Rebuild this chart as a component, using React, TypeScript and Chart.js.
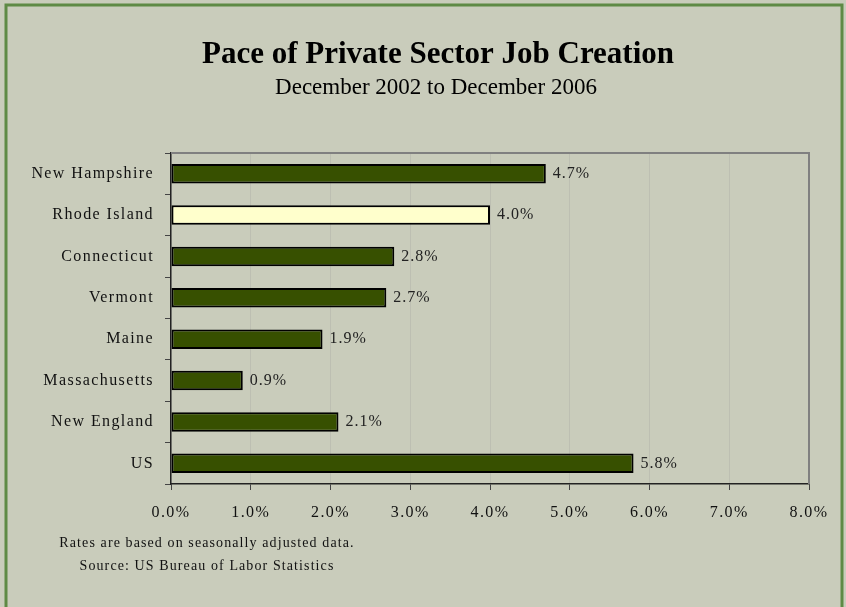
import React, { useEffect, useRef } from "react";
import { Chart, registerables } from "chart.js";

Chart.register(...registerables);

const categories = ["New Hampshire", "Rhode Island", "Connecticut", "Vermont", "Maine", "Massachusetts", "New England", "US"];
const values = [4.7, 4.0, 2.8, 2.7, 1.9, 0.9, 2.1, 5.8];
const barColors = ["#375000", "#FFFFCC", "#375000", "#375000", "#375000", "#375000", "#375000", "#375000"];
const xTicks = [0, 1, 2, 3, 4, 5, 6, 7, 8];
const titleText = "Pace of Private Sector Job Creation";
const subtitleText = "December 2002 to December 2006";
const footerLines = ["Rates are based on seasonally adjusted data.", "Source: US Bureau of Labor Statistics"];

const SERIF = "'Liberation Serif', 'Times New Roman', serif";

const framePlugin = {
  id: "frame",
  beforeLayout(chart: any) {
    (chart.ctx as any).letterSpacing = "1.5px";
  },
  beforeDraw(chart: any) {
    const ctx = chart.ctx;
    ctx.save();
    (ctx as any).letterSpacing = "0px";
    ctx.fillStyle = "#C9CCBB";
    ctx.fillRect(0, 0, chart.width, chart.height);
    ctx.strokeStyle = "#5E8A45";
    ctx.lineWidth = 3;
    ctx.strokeRect(6, 5, chart.width - 10, chart.height + 10);
    // title
    ctx.fillStyle = "#000";
    ctx.textAlign = "center";
    ctx.textBaseline = "middle";
    ctx.font = `bold 31px ${SERIF}`;
    ctx.fillText(titleText, 438, 55);
    ctx.font = `23px ${SERIF}`;
    ctx.fillText(subtitleText, 436, 88);
    // footer
    ctx.font = `14px ${SERIF}`;
    (ctx as any).letterSpacing = "1.1px";
    ctx.fillStyle = "#111";
    ctx.fillText(footerLines[0], 207, 543);
    ctx.fillText(footerLines[1], 207, 566);
    ctx.restore();
    (ctx as any).letterSpacing = "1.4px";
  },
  afterDraw(chart: any) {
    const ctx = chart.ctx;
    const a = chart.chartArea;
    ctx.save();
    ctx.strokeStyle = "#808080";
    ctx.lineWidth = 2;
    ctx.beginPath();
    ctx.moveTo(a.left, a.top);
    ctx.lineTo(a.right, a.top);
    ctx.lineTo(a.right, a.bottom);
    ctx.stroke();
    ctx.restore();
  },
};

const labelPlugin = {
  id: "barLabels",
  afterDatasetsDraw(chart: any) {
    const ctx = chart.ctx;
    const meta = chart.getDatasetMeta(0);
    ctx.save();
    ctx.font = `16px ${SERIF}`;
    (ctx as any).letterSpacing = "1px";
    ctx.fillStyle = "#222";
    ctx.textAlign = "left";
    ctx.textBaseline = "middle";
    meta.data.forEach((bar: any, i: number) => {
      ctx.fillText(values[i].toFixed(1) + "%", bar.x + 7, bar.y);
    });
    ctx.restore();
  },
};

export default function App() {
  const ref = useRef<HTMLCanvasElement>(null);
  useEffect(() => {
    document.body.style.margin = "0";
    const chart = new Chart(ref.current!, {
      type: "bar",
      data: {
        labels: categories,
        datasets: [
          {
            data: values,
            backgroundColor: barColors,
            borderColor: "#000",
            borderWidth: 2,
            borderSkipped: false,
            barPercentage: 0.47,
            categoryPercentage: 1,
          },
        ],
      },
      options: {
        indexAxis: "y",
        animation: false,
        responsive: false,
        layout: { padding: { top: 153, right: 37, bottom: 83, left: 0 } },
        plugins: { legend: { display: false }, tooltip: { enabled: false } },
        scales: {
          x: {
            min: 0,
            max: 8,
            afterBuildTicks(scale: any) {
              scale.ticks = xTicks.map((v) => ({ value: v }));
            },
            afterFit(scale: any) {
              scale.height = 40;
            },
            ticks: {
              font: { family: SERIF, size: 16 },
              color: "#111",
              padding: 13,
              maxRotation: 0,
              callback: (v: any) => Number(v).toFixed(1) + "%",
            },
            grid: { color: "#BDBFB2", lineWidth: 1, tickColor: "#444", tickLength: 6 },
            border: { color: "#222", width: 1.5 },
          },
          y: {
            afterFit(scale: any) {
              scale.width = 171;
            },
            ticks: {
              font: { family: SERIF, size: 16 },
              color: "#111",
              padding: 11,
            },
            grid: { drawOnChartArea: false, drawTicks: true, tickLength: 6, tickColor: "#444", offset: true },
            border: { color: "#222", width: 1.5 },
          },
        },
      },
      plugins: [framePlugin, labelPlugin],
    });
    return () => chart.destroy();
  }, []);
  return (
    <div style={{ position: "absolute", left: 0, top: 0, width: 846, height: 607 }}>
      <canvas ref={ref} width={846} height={607} />
    </div>
  );
}
